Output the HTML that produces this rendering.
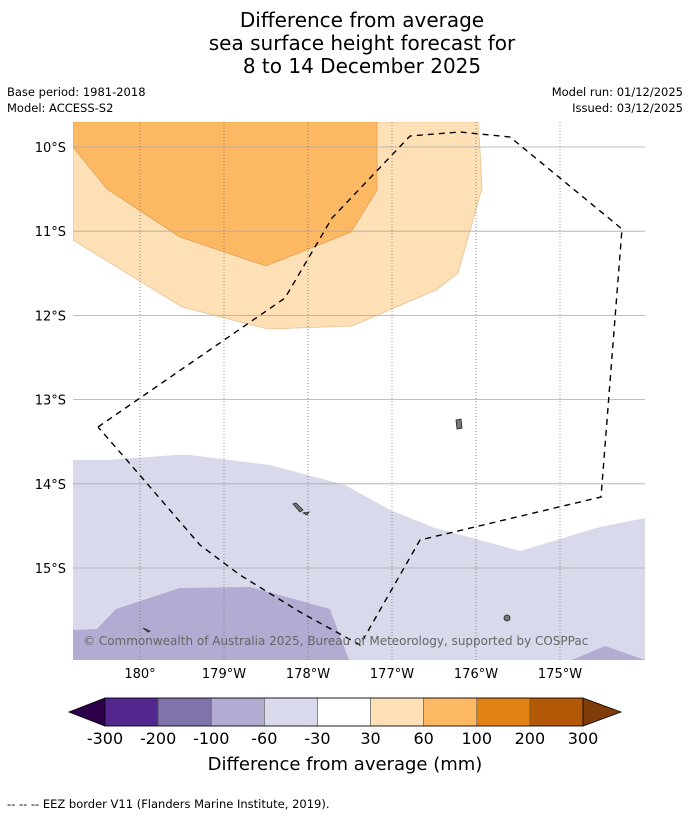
<!DOCTYPE html>
<html><head><meta charset="utf-8"><style>
body{margin:0;background:#fff;font-family:"Liberation Sans","DejaVu Sans",sans-serif}
svg text{font-family:"DejaVu Sans","Liberation Sans",sans-serif}
</style></head><body>
<svg width="690" height="816" xmlns="http://www.w3.org/2000/svg">
<g font-size="20" text-anchor="middle" fill="#000">
<text x="362" y="27">Difference from average</text>
<text x="362" y="50">sea surface height forecast for</text>
<text x="362" y="73">8 to 14 December 2025</text>
</g>
<g font-size="11.5" fill="#000">
<text x="7" y="96">Base period: 1981-2018</text>
<text x="7" y="112">Model: ACCESS-S2</text>
<text x="683" y="96" text-anchor="end">Model run: 01/12/2025</text>
<text x="683" y="112" text-anchor="end">Issued: 03/12/2025</text>
</g>
<defs><clipPath id="mc"><rect x="73" y="122" width="572" height="538"/></clipPath></defs>
<g clip-path="url(#mc)">
<polygon fill="#fee0b6" stroke="#e8c090" stroke-width="0.8" points="73,122 478,122 480,150 482,188 458,273 436,290 352,326 268,329 182,307 73,240"/>
<polygon fill="#fdb863" stroke="#e0a050" stroke-width="0.8" points="73,122 377,122 377,190 351,232 266,266 180,237 107,189 73,147"/>
<polygon fill="#d8daeb" points="73,460 107,460 175,455 190,455 270,465 345,485 390,510 435,528 520,551 600,527 645,518 645,660 73,660"/>
<polygon fill="#b2abd2" points="73,660 73,630 97,629 116,609 180,588 250,587 330,609 349,660"/>
<polygon fill="#b2abd2" points="572,660 605,646 645,660"/>
<g id="grid"></g>
<polyline fill="none" stroke="#000" stroke-width="1.4" stroke-dasharray="6,5" points="98,427 285,298 332,218 410,136 460,132 510,137 622,229 601,497 420,540 360,645 300,612 240,575 200,545 125,458 98,427"/>
<g fill="#777" stroke="#222" stroke-width="0.8">
<polygon points="456,420 461,419 462,428 457,429"/>
<polygon points="293,504 296,503 303,510 300,512"/>
<polygon points="303,513 309,512 307,515"/>
<circle cx="507" cy="618" r="3"/>
<polygon points="143,628 150,631 148,632"/>
</g>
<text x="83" y="645" font-size="12" fill="#666">© Commonwealth of Australia 2025, Bureau of Meteorology, supported by COSPPac</text>
</g>
<g id="axes"></g>
<g id="cbar"></g>
<text x="345" y="770" text-anchor="middle" font-size="18">Difference from average (mm)</text>
<text x="7" y="808" font-size="11.5">--  --  -- EEZ border V11 (Flanders Marine Institute, 2019).</text>
</svg>
<script>
const NS="http://www.w3.org/2000/svg";
const lats=[10,11,12,13,14,15];
const lons=[180,179,178,177,176,175];
const lonLabels=["180°","179°W","178°W","177°W","176°W","175°W"];
const levels=["-300","-200","-100","-60","-30","30","60","100","200","300"];
const colors=["#54278f","#8073ac","#b2abd2","#d8daeb","#ffffff","#fee0b6","#fdb863","#e08214","#b35806"];
const yOf=l=>147+(l-10)*84.2;
const xOf=l=>140+(180-l)*84;
function mk(t,a,p){const e=document.createElementNS(NS,t);for(const k in a)e.setAttribute(k,a[k]);p.appendChild(e);return e;}
const grid=document.getElementById('grid'),axes=document.getElementById('axes'),cb=document.getElementById('cbar');
lats.forEach(l=>{const y=yOf(l);
const g=mk('line',{x1:73,x2:645,y1:y,y2:y,stroke:'#aaa','stroke-width':0.8},grid);


const t=mk('text',{x:66,y:y+5,'text-anchor':'end','font-size':13},axes);t.textContent=l+"°S";

});
lons.forEach((l,i)=>{const x=xOf(l);
const g=mk('line',{x1:x,x2:x,y1:122,y2:660,stroke:'#777','stroke-width':0.8,'stroke-dasharray':'1,2'},grid);


const t=mk('text',{x:x,y:678,'text-anchor':'middle','font-size':13},axes);t.textContent=lonLabels[i];

});
const x0=105,x1=583,y0=698,y1=726,w=(x1-x0)/colors.length;
const lt=mk('polygon',{points:`${x0},${y0} 69,712 ${x0},${y1}`,fill:'#2d004b',stroke:'#000','stroke-width':0.8},cb);


const rt=mk('polygon',{points:`${x1},${y0} 621,712 ${x1},${y1}`,fill:'#7f3b08',stroke:'#000','stroke-width':0.8},cb);


colors.forEach((c,i)=>{const r=mk('rect',{x:x0+i*w,y:y0,width:w,height:y1-y0,fill:c,stroke:'#555','stroke-width':0.6},cb);

});
mk('rect',{x:x0,y:y0,width:x1-x0,height:y1-y0,fill:'none',stroke:'#000','stroke-width':0.8},cb);
levels.forEach((v,i)=>{const t=mk('text',{x:x0+i*w,y:744,'text-anchor':'middle','font-size':16},cb);t.textContent=v;

});
</script>
</body></html>
